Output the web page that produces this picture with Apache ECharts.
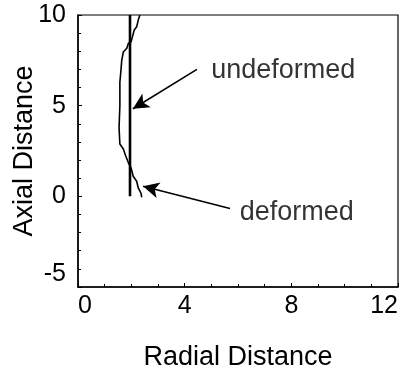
<!DOCTYPE html>
<html>
<head>
<meta charset="utf-8">
<script src="https://cdn.jsdelivr.net/npm/echarts@6/dist/echarts.min.js"></script>
<style>
  html, body { margin: 0; padding: 0; background: #fff; }
  #chart { width: 403px; height: 365px; }
</style>
</head>
<body>
<div id="chart"></div>
<script>
// Undeformed profile: a straight vertical wall
var undeformedR = [1.95, 1.95];
var undeformedZ = [0, 10];

// Deformed profile (radial, axial)
var deformedR = [2.32, 2.26, 2.20, 2.11, 1.99, 1.89, 1.83, 1.70, 1.64, 1.61, 1.57, 1.57, 1.54, 1.57, 1.70, 1.79, 1.89, 1.99, 2.07, 2.20, 2.26, 2.36, 2.39];
var deformedZ = [10, 9.72, 9.35, 9.17, 8.52, 8.44, 8.17, 7.96, 7.5, 6.94, 6.29, 5.0, 3.79, 2.89, 2.61, 2.22, 1.85, 1.57, 1.11, 0.83, 0.46, 0.18, -0.05];

// Annotation labels and arrows (data coordinates)
var labelNames = ['undeformed', 'deformed'];
var labelR = [7.7, 8.2];
var labelZ = [6.95, -0.9];
var arrowFromR = [4.46, 5.7];
var arrowFromZ = [7.0, -0.67];
var arrowToR = [2.06, 2.44];
var arrowToZ = [4.83, 0.56];

var xTicks = [0, 4, 8, 12];
var yTicks = [-5, 0, 5, 10];

function zip(a, b) { return a.map(function (v, i) { return [v, b[i]]; }); }

var FONT = 'Liberation Sans, Arial, Helvetica, sans-serif';

var chart = echarts.init(document.getElementById('chart'), null, { renderer: 'canvas' });
chart.setOption({
  animation: false,
  backgroundColor: '#fff',
  grid: {
    left: 78, right: 5, top: 15, bottom: 78,
    outerBoundsMode: 'none', containLabel: false,
    show: true, borderColor: '#000', borderWidth: 1.2, backgroundColor: 'transparent'
  },
  xAxis: {
    type: 'value', min: xTicks[0], max: xTicks[xTicks.length - 1], interval: 4,
    name: 'Radial Distance', nameLocation: 'middle', nameGap: 57, nameMoveOverlap: false,
    nameTextStyle: { fontFamily: FONT, fontSize: 27, color: '#000' },
    axisLine: { onZero: false, lineStyle: { color: '#000', width: 1.5 } },
    axisTick: { inside: true, length: 4, lineStyle: { color: '#000' } },
    minorTick: { show: true, splitNumber: 4, length: 3, lineStyle: { color: '#000' } },
    splitLine: { show: false },
    axisLabel: { fontFamily: FONT, fontSize: 25, color: '#000', margin: 7, alignMinLabel: 'left', alignMaxLabel: 'right' }
  },
  yAxis: {
    type: 'value', min: yTicks[0], max: yTicks[yTicks.length - 1], interval: 5,
    name: 'Axial Distance', nameLocation: 'middle', nameGap: 40, nameMoveOverlap: false,
    nameTextStyle: { fontFamily: FONT, fontSize: 27, color: '#000' },
    axisLine: { onZero: false, lineStyle: { color: '#000', width: 1.5 } },
    axisTick: { inside: true, length: 4, lineStyle: { color: '#000' } },
    minorTick: { show: true, splitNumber: 5, length: 3, lineStyle: { color: '#000' } },
    splitLine: { show: false },
    axisLabel: { fontFamily: FONT, fontSize: 25, color: '#000', margin: 12, verticalAlignMinLabel: 'bottom' }
  },
  series: [
    {
      name: 'undeformed', type: 'line', data: zip(undeformedR, undeformedZ),
      symbol: 'none', lineStyle: { color: '#000', width: 2.6 }
    },
    {
      name: 'deformed', type: 'line', data: zip(deformedR, deformedZ),
      symbol: 'none', lineStyle: { color: '#000', width: 1.6 }
    },
    {
      name: 'notes', type: 'scatter', symbolSize: 0,
      data: labelNames.map(function (n, i) { return { name: n, value: [labelR[i], labelZ[i]] }; }),
      label: {
        show: true, position: 'inside', formatter: '{b}', fontFamily: FONT, fontSize: 27,
        color: '#000', textBorderWidth: 0
      },
      markLine: {
        silent: true, symbol: ['none', 'arrow'], symbolSize: [12, 16],
        lineStyle: { color: '#000', width: 1.6, type: 'solid' },
        label: { show: false },
        data: arrowFromR.map(function (r, i) {
          return [{ coord: [r, arrowFromZ[i]] }, { coord: [arrowToR[i], arrowToZ[i]] }];
        })
      }
    }
  ]
});
</script>
</body>
</html>
